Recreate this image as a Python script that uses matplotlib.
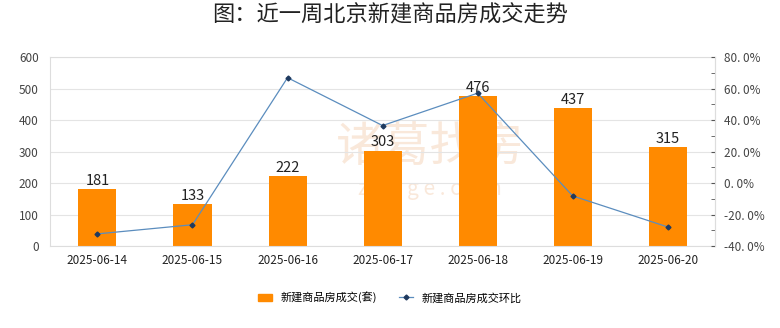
import matplotlib.pyplot as plt
from matplotlib.ticker import FuncFormatter, MultipleLocator
from matplotlib.lines import Line2D
from matplotlib.patches import Patch

plt.rcParams['font.family'] = ['Noto Sans CJK SC', 'DejaVu Sans']
plt.rcParams['axes.unicode_minus'] = False

dates = ["2025-06-14", "2025-06-15", "2025-06-16", "2025-06-17",
         "2025-06-18", "2025-06-19", "2025-06-20"]
deals = [181, 133, 222, 303, 476, 437, 315]
mom_pct = [-32.3, -26.5, 66.9, 36.5, 57.1, -8.2, -27.9]

bar_color = "#FF8A00"
line_color = "#5B8DBE"

fig = plt.figure(figsize=(7.8, 3.28), dpi=100)
ax = fig.add_axes([0.064, 0.25, 0.853, 0.576])
x = range(len(dates))

# faint watermark behind the bars
ax.text(3.5, 311, "诸葛找房", ha="center", va="center", fontsize=34,
        color="#F6D9C2", alpha=0.6, zorder=0)
ax.text(3.5, 180, "z h u g e . c o m", ha="center", va="center", fontsize=15,
        color="#F6D9C2", alpha=0.6, zorder=0)

bars = ax.bar(x, deals, width=0.4, color=bar_color, zorder=2)
for xi, v in zip(x, deals):
    ax.text(xi, v + 4, str(v), ha="center", va="bottom", fontsize=10.5,
            color="#222222", zorder=5)

ax.set_ylim(0, 600)
ax.set_yticks(range(0, 601, 100))
ax.set_xlim(-0.5, len(dates) - 0.5)
ax.set_xticks(list(x))
ax.set_xticklabels(dates, fontsize=8.5, color="#222222")
ax.tick_params(axis="y", labelsize=8.5, colors="#444444", length=0, pad=8)
ax.tick_params(axis="x", length=0, pad=6)
ax.grid(axis="y", color="#E4E4E4", linewidth=0.8, zorder=0)
for s in ax.spines.values():
    s.set_color("#DDDDDD")
    s.set_linewidth(0.8)

ax2 = ax.twinx()
ax2.plot(list(x), mom_pct, color=line_color, linewidth=0.9,
         marker="D", markersize=2.5, markerfacecolor="#1F3A5F",
         markeredgecolor="#1F3A5F", zorder=4)
ax2.set_ylim(-40, 80)
ax2.yaxis.set_major_locator(MultipleLocator(20))
ax2.yaxis.set_minor_locator(MultipleLocator(10))
ax2.yaxis.set_major_formatter(FuncFormatter(lambda v, p: f"{v:.1f}%".replace(".", ". ")))
ax2.tick_params(axis="y", which="both", direction="in", length=3,
                color="#555555", labelsize=8.5, labelcolor="#444444", pad=6)
for s in ax2.spines.values():
    s.set_visible(False)
ax2.spines["right"].set_visible(True)
ax2.spines["right"].set_color("#DDDDDD")

fig.suptitle("图：近一周北京新建商品房成交走势", fontsize=16, y=0.99,
             color="#222222")

handles = [Patch(facecolor=bar_color, edgecolor=bar_color),
           Line2D([0], [0], color=line_color, linewidth=0.9, marker="D",
                  markersize=2.5, markerfacecolor="#1F3A5F",
                  markeredgecolor="#1F3A5F")]
fig.legend(handles, ["新建商品房成交(套)", "新建商品房成交环比"],
           loc="center", bbox_to_anchor=(0.5, 0.093), ncol=2, frameon=False,
           fontsize=8, handlelength=1.2, handleheight=0.7, columnspacing=2.0,
           handletextpad=0.8)

fig.savefig("out.png", dpi=100)
